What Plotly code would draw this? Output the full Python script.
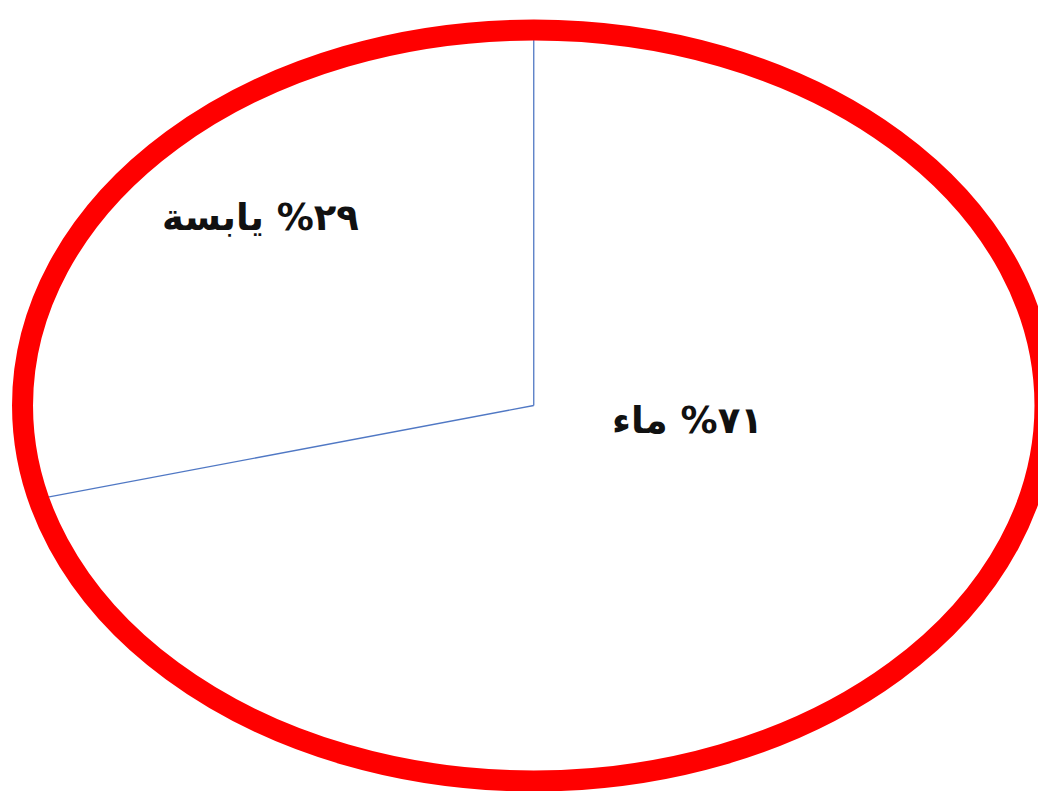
import numpy as np
import plotly.graph_objects as go

# pie data: land / water share of the earth surface
labels = ["يابسة", "ماء"]
shares = [29, 71]
label_text = ["٢٩% يابسة", "٧١% ماء"]

# where the labels sit (unit ellipse coordinates)
label_x = [-0.535, 0.30]
label_y = [0.50, -0.04]

fig = go.Figure()

# wedge borders: start at 12 o'clock, go counterclockwise
start = 90.0
cum = np.cumsum([0] + shares[:-1]) / sum(shares)
for c in cum:
    t = np.radians(start + 360 * c)
    fig.add_trace(go.Scatter(x=[0, np.cos(t)], y=[0, np.sin(t)], mode="lines",
                             line=dict(color="#5078c4", width=1.3),
                             hoverinfo="skip", showlegend=False))

for i in range(len(labels)):
    fig.add_annotation(x=label_x[i], y=label_y[i], text="<b>" + label_text[i] + "</b>",
                       showarrow=False, font=dict(family="DejaVu Sans", size=37, color="#111111"))

# red outline of the pie
fig.add_shape(type="circle", xref="x", yref="y", x0=-1, y0=-1, x1=1, y1=1,
              line=dict(color="#ff0000", width=21), fillcolor="rgba(0,0,0,0)", layer="above")

# page has an 8px body margin, so the figure is 1038x783
fig.update_xaxes(visible=False, range=[-1.0284, 1.0020])
fig.update_yaxes(visible=False, range=[-1.0266, 1.0586])
fig.update_layout(width=1038, height=783, margin=dict(l=0, r=0, t=0, b=0),
                  plot_bgcolor="white", paper_bgcolor="white")

fig.write_html("out.html")
